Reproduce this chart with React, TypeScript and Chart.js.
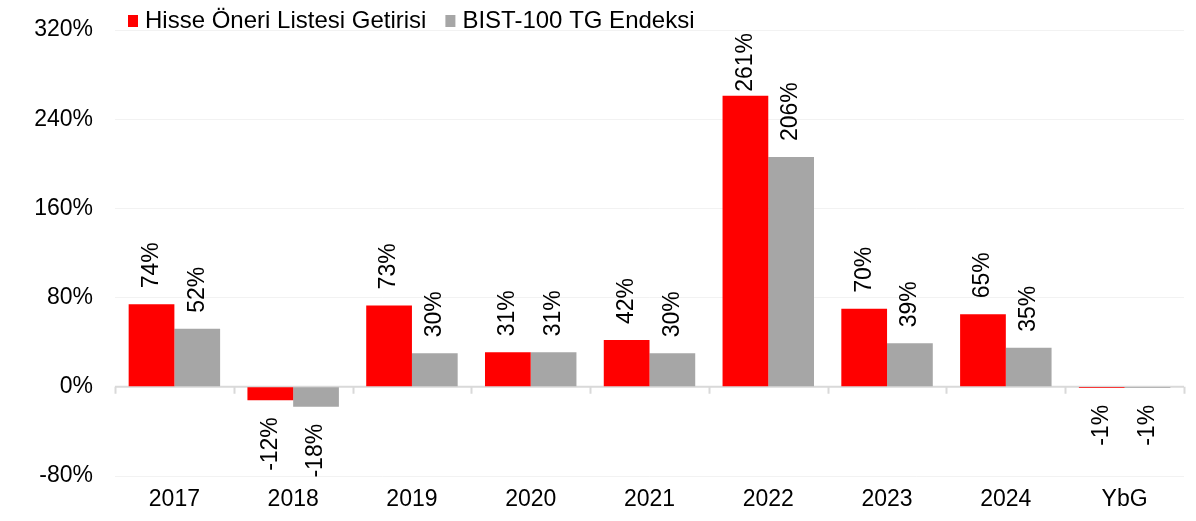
import React, { useEffect, useRef } from "react";
import { Chart, registerables } from "chart.js";

Chart.register(...registerables);

const categories = ["2017", "2018", "2019", "2020", "2021", "2022", "2023", "2024", "YbG"];
const seriesNames = ["Hisse Öneri Listesi Getirisi", "BIST-100 TG Endeksi"];
const hisseValues = [74, -12, 73, 31, 42, 261, 70, 65, -1];
const bistValues = [52, -18, 30, 31, 30, 206, 39, 35, -1];
const yTickValues = [-80, 0, 80, 160, 240, 320];

const RED = "#FF0000";
const GRAY = "#A6A6A6";
const FONT = "'Liberation Sans', Arial, sans-serif";

const zeroLinePlugin = {
  id: "zeroLine",
  beforeDatasetsDraw(chart: any) {
    const { ctx, chartArea, scales } = chart;
    const y0 = scales.y.getPixelForValue(0);
    const n = categories.length;
    const w = (chartArea.right - chartArea.left) / n;
    ctx.save();
    ctx.strokeStyle = "#d9d9d9";
    ctx.lineWidth = 2;
    ctx.beginPath();
    ctx.moveTo(chartArea.left, y0);
    ctx.lineTo(chartArea.right, y0);
    for (let i = 0; i <= n; i++) {
      const x = Math.round(chartArea.left + i * w) + 0.5;
      ctx.moveTo(x, y0);
      ctx.lineTo(x, y0 + 7);
    }
    ctx.stroke();
    ctx.restore();
  },
};

const labelPlugin = {
  id: "barLabels",
  afterDatasetsDraw(chart: any) {
    const { ctx, chartArea } = chart;
    ctx.save();
    ctx.font = `23px ${FONT}`;
    ctx.fillStyle = "#000";
    ctx.textBaseline = "middle";
    chart.data.datasets.forEach((ds: any, di: number) => {
      const meta = chart.getDatasetMeta(di);
      meta.data.forEach((el: any, i: number) => {
        const v = ds.data[i];
        const text = Math.round(v) + "%";
        const tw = ctx.measureText(text).width;
        ctx.save();
        if (v >= 0) {
          let ay = el.y - 16;
          if (ay - tw < chartArea.top + 3) ay = chartArea.top + 3 + tw;
          ctx.translate(el.x, ay);
          ctx.rotate(-Math.PI / 2);
          ctx.textAlign = "left";
        } else {
          ctx.translate(el.x, el.y + 17);
          ctx.rotate(-Math.PI / 2);
          ctx.textAlign = "right";
        }
        ctx.fillText(text, 0, 0);
        ctx.restore();
      });
    });
    ctx.restore();
  },
};

const legendPlugin = {
  id: "customLegend",
  afterDraw(chart: any) {
    const { ctx } = chart;
    ctx.save();
    ctx.font = `24px ${FONT}`;
    ctx.textBaseline = "middle";
    ctx.textAlign = "left";
    const items = [
      { name: seriesNames[0], color: RED },
      { name: seriesNames[1], color: GRAY },
    ];
    let x = 128;
    const cy = 21;
    items.forEach((it) => {
      ctx.fillStyle = it.color;
      ctx.fillRect(x, cy - 6, 10, 12);
      ctx.fillStyle = "#000";
      ctx.fillText(it.name, x + 17, cy);
      x += 17 + ctx.measureText(it.name).width + 19;
    });
    ctx.restore();
  },
};

export default function App() {
  const canvasRef = useRef<HTMLCanvasElement | null>(null);

  useEffect(() => {
    if (!canvasRef.current) return;
    const chart = new Chart(canvasRef.current, {
      type: "bar",
      data: {
        labels: categories,
        datasets: [
          {
            label: seriesNames[0],
            data: hisseValues,
            backgroundColor: RED,
            categoryPercentage: 0.77,
            barPercentage: 1,
          },
          {
            label: seriesNames[1],
            data: bistValues,
            backgroundColor: GRAY,
            categoryPercentage: 0.77,
            barPercentage: 1,
          },
        ],
      },
      options: {
        animation: false,
        responsive: false,
        maintainAspectRatio: false,
        layout: { padding: { top: 30, right: 12, bottom: 0, left: 0 } },
        plugins: {
          legend: { display: false },
          tooltip: { enabled: false },
        },
        scales: {
          x: {
            grid: { display: false },
            border: { display: false },
            ticks: {
              color: "#000",
              font: { family: FONT, size: 23 },
              padding: 2,
              maxRotation: 0,
            },
            afterFit(scale: any) {
              scale.height = 45;
            },
          },
          y: {
            min: -80,
            max: 320,
            afterBuildTicks(scale: any) {
              scale.ticks = yTickValues.map((v) => ({ value: v }));
            },
            grid: {
              color: (c: any) => (c.tick && c.tick.value === 0 ? "rgba(0,0,0,0)" : "rgba(0,0,0,0.05)"),
              drawTicks: true,
              tickLength: 22,
              tickColor: "rgba(0,0,0,0)",
            },
            border: { display: false },
            ticks: {
              color: "#000",
              font: { family: FONT, size: 23 },
              padding: 0,
              callback: (v: any) => v + "%",
            },
            afterFit(scale: any) {
              scale.width = 115;
            },
          },
        },
      },
      plugins: [zeroLinePlugin, labelPlugin, legendPlugin],
    });
    return () => chart.destroy();
  }, []);

  return (
    <div style={{ position: "fixed", left: 0, top: 0, width: 1196, height: 521, background: "#fff" }}>
      <canvas ref={canvasRef} width={1196} height={521} style={{ width: 1196, height: 521 }} />
    </div>
  );
}
